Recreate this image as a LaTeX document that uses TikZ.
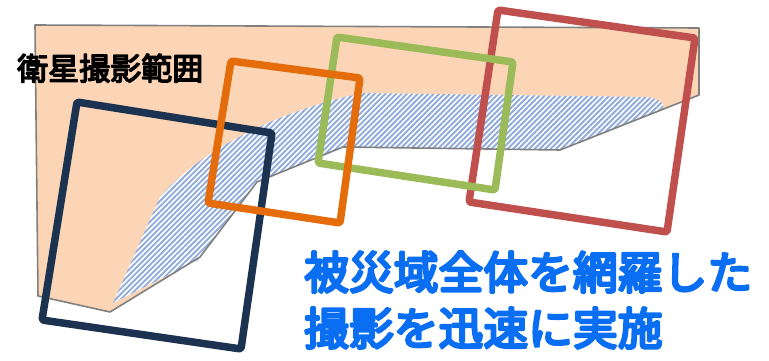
\documentclass[tikz,border=0pt]{standalone}
\usepackage{fontspec}
\newfontfamily\cjk{Noto Sans CJK JP}
\newcommand{\heavytext}[2]{\special{pdf:literal 2 Tr #1 w 1 j}#2\special{pdf:literal 0 Tr}}
\usetikzlibrary{patterns.meta}
\definecolor{peach}{HTML}{FBD5B5}
\definecolor{edgegrey}{HTML}{808080}
\definecolor{hatchblue}{HTML}{8FAADC}
\definecolor{navyf}{HTML}{1B3350}
\definecolor{orangef}{HTML}{E46C0A}
\definecolor{greenf}{HTML}{9BBB59}
\definecolor{redf}{HTML}{C0504D}
\definecolor{textblue}{HTML}{0A6EF2}
\tikzset{
  frame/.style={line width=7.5pt, rounded corners=2pt, line join=round},
  bigtext/.style={font=\cjk\fontsize{44.8}{50}\selectfont, text=textblue, anchor=base west, inner sep=0pt},
  smalltext/.style={font=\cjk\fontsize{31}{36}\selectfont, text=black, anchor=base west, inner sep=0pt}
}
\begin{document}
\begin{tikzpicture}[x=1pt,y=-1pt]
\useasboundingbox (0,0) rectangle (769,361);
% satellite coverage area
\fill[peach] (35,25) -- (699,28) -- (699,95) -- (560,150) -- (343,147) -- (257,182) -- (200,257) -- (110,312) -- (38,296) -- cycle;
% hatched disaster area
\path[fill=white, postaction={fill, pattern={Lines[angle=45,distance=3.8pt,line width=1.9pt]}, pattern color=hatchblue}]
  (113,303) -- (160,197) .. controls (200,150) and (280,110) .. (363,93)
  -- (645,97) .. controls (660,98) and (666,105) .. (662,110)
  -- (560,150) -- (343,147) -- (257,182) -- (198,260) -- cycle;
\draw[edgegrey, line width=1.6pt, line join=round] (35,25) -- (699,28) -- (699,95) -- (560,150) -- (343,147) -- (257,182) -- (200,257) -- (110,312) -- (38,296) -- cycle;
% frames
\draw[frame, redf] (498,10) -- (695,38) -- (667,232) -- (469,202) -- cycle;
\draw[frame, greenf] (337,37) -- (513,62) -- (495,190) -- (318,163) -- cycle;
\draw[frame, navyf] (77,102) -- (272,133) -- (241,349) -- (42,320) -- cycle;
\draw[frame, orangef] (231,61) -- (360,78) -- (340,223) -- (208,203) -- cycle;
% texts
\node[smalltext] (sat) at (17,80) {\heavytext{1.4}{衛星撮影範囲}};
\node[bigtext] (l1) at (304,289) {\heavytext{2.6}{被災域全体を網羅した}};
\node[bigtext] (l2) at (304,345) {\heavytext{2.6}{撮影を迅速に実施}};
\end{tikzpicture}
\end{document}
